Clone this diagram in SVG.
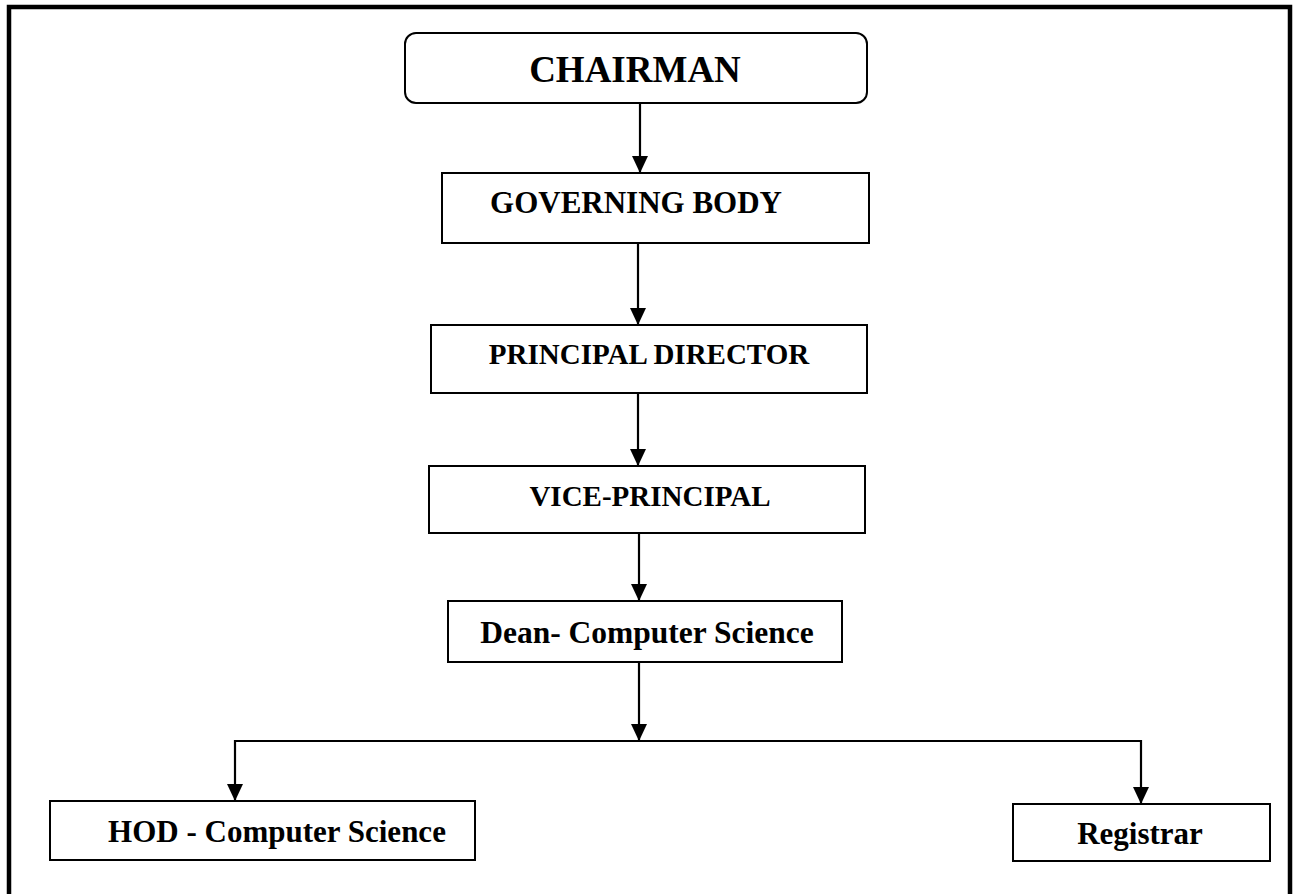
<svg xmlns="http://www.w3.org/2000/svg" width="1293" height="894" viewBox="0 0 1293 894">
<defs>
<marker id="arr" markerWidth="18" markerHeight="18" refX="17" refY="8" orient="auto" markerUnits="userSpaceOnUse">
<path d="M0,0 L17,8 L0,16 Z" fill="#000"/>
</marker>
<style>
.box{fill:#fff;stroke:#000;stroke-width:2}
.lbl{font-family:"Liberation Serif","Times New Roman",serif;font-weight:bold;fill:#000;text-anchor:middle}
.con{fill:none;stroke:#000;stroke-width:2.2}
</style>
</defs>
<rect x="0" y="0" width="1293" height="894" fill="#fff"/>
<rect x="9" y="7" width="1281" height="910" fill="none" stroke="#000" stroke-width="4.5"/>
<g id="connectors">
<line class="con" x1="640" y1="103" x2="640" y2="173" marker-end="url(#arr)"/>
<line class="con" x1="638" y1="243" x2="638" y2="325" marker-end="url(#arr)"/>
<line class="con" x1="638" y1="393" x2="638" y2="466" marker-end="url(#arr)"/>
<line class="con" x1="639" y1="533" x2="639" y2="601" marker-end="url(#arr)"/>
<line class="con" x1="639" y1="662" x2="639" y2="741" marker-end="url(#arr)"/>
<polyline class="con" points="235,741 1141,741 1141,804" marker-end="url(#arr)"/>
<line class="con" x1="235" y1="740" x2="235" y2="801" marker-end="url(#arr)"/>
</g>
<g id="chairman">
<rect class="box" x="405" y="33" width="462" height="70" rx="11" ry="11"/>
<text class="lbl" x="635" y="82" font-size="37">CHAIRMAN</text>
</g>
<g id="governing-body">
<rect class="box" x="442" y="173" width="427" height="70"/>
<text class="lbl" x="636" y="213" font-size="31">GOVERNING BODY</text>
</g>
<g id="principal-director">
<rect class="box" x="431" y="325" width="436" height="68"/>
<text class="lbl" x="649" y="364" font-size="29">PRINCIPAL DIRECTOR</text>
</g>
<g id="vice-principal">
<rect class="box" x="429" y="466" width="436" height="67"/>
<text class="lbl" x="650" y="506" font-size="29">VICE-PRINCIPAL</text>
</g>
<g id="dean">
<rect class="box" x="448" y="601" width="394" height="61"/>
<text class="lbl" x="647" y="643" font-size="31.5">Dean- Computer Science</text>
</g>
<g id="hod">
<rect class="box" x="50" y="801" width="425" height="59"/>
<text class="lbl" x="277" y="842" font-size="31">HOD - Computer Science</text>
</g>
<g id="registrar">
<rect class="box" x="1013" y="804" width="257" height="57"/>
<text class="lbl" x="1140" y="844" font-size="31">Registrar</text>
</g>
</svg>
